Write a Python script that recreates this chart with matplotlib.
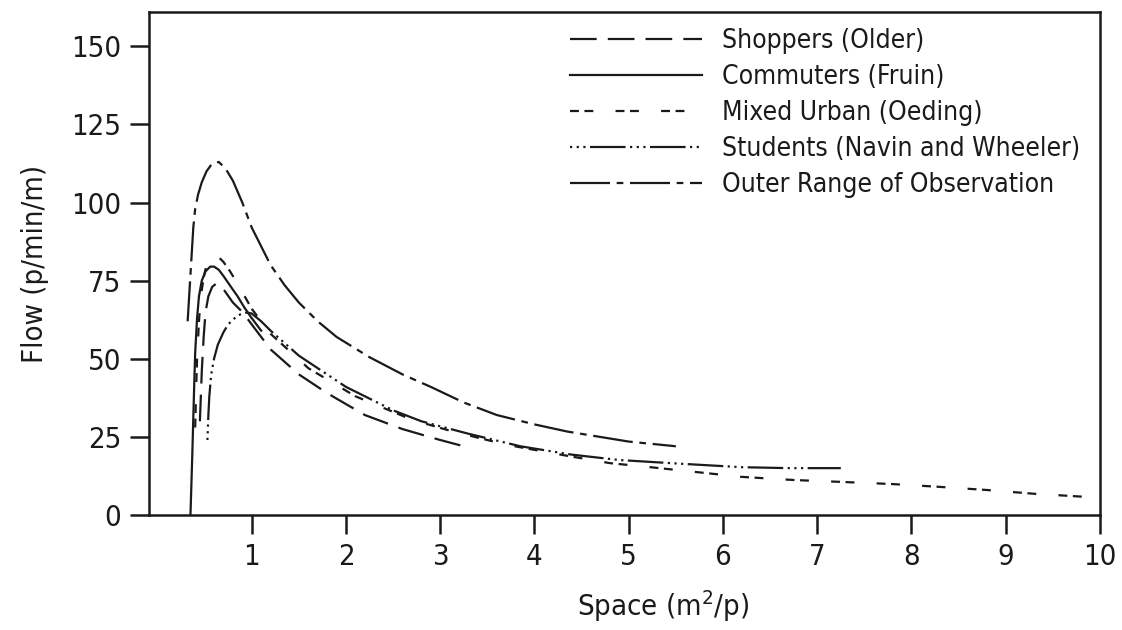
import matplotlib
matplotlib.use("Agg")
import matplotlib.pyplot as plt

plt.rcParams['font.family'] = ['DejaVu Sans']
plt.rcParams['font.stretch'] = 'condensed'

# ---- data ----
shoppers_x = [0.45, 0.46, 0.47, 0.49, 0.51, 0.54, 0.58, 0.62, 0.67, 0.73, 0.80, 0.90, 1.00, 1.20,
              1.50, 1.80, 2.20, 2.60, 3.00, 3.25]
shoppers_y = [30, 38, 46, 57, 65, 70, 73, 74, 73.5, 71, 68, 65, 61, 53,
              45, 39, 32, 27.5, 24, 22]

commuters_x = [0.35, 0.36, 0.37, 0.38, 0.39, 0.40, 0.42, 0.44, 0.47, 0.51, 0.56, 0.60, 0.65,
               0.70, 0.78, 0.85, 0.92, 1.00, 1.10]
commuters_y = [0, 10, 20, 31, 42, 52, 63, 70, 75, 78, 79.5, 79.5, 78.5,
               76.5, 73, 70, 66.5, 63, 59]

mixed_x = [0.40, 0.41, 0.42, 0.44, 0.46, 0.49, 0.52, 0.56, 0.60, 0.65, 0.70, 0.77, 0.85, 1.00,
           1.20, 1.60, 2.10, 2.70, 3.10, 3.70, 4.30, 4.80, 5.20, 5.70, 6.20, 6.75, 7.25, 7.80,
           8.30, 8.80, 9.30, 9.85]
mixed_y = [28, 40, 50, 62, 70, 76, 80, 82.5, 83, 82.5, 81, 78, 74, 66,
           58, 47, 38, 30.5, 27, 22.5, 19.2, 16.6, 15.4, 13.8, 12.2, 11.2, 10.6, 9.9,
           9.0, 8.0, 6.8, 5.8]

students_x = [0.53, 0.54, 0.55, 0.57, 0.60, 0.64, 0.70, 0.75, 0.80, 0.85, 0.90, 0.95, 1.00,
              1.10, 1.20, 1.35, 1.50, 1.75, 2.00, 2.50, 2.80, 3.30, 3.85, 4.40, 4.90, 5.50,
              6.20, 6.70, 7.25]
students_y = [24, 32, 38, 45, 50, 54.5, 58.5, 61, 62.5, 63.8, 64.5, 64.8, 64.5,
              62, 59, 55, 51, 46, 41, 33.5, 30, 26, 22, 19.3, 17.6, 16.5,
              15.3, 15, 15]

outer_x = [0.32, 0.34, 0.36, 0.38, 0.40, 0.43, 0.47, 0.52, 0.58, 0.65, 0.72, 0.80, 0.90, 1.00,
           1.10, 1.20, 1.35, 1.50, 1.70, 1.90, 2.25, 2.60, 2.90, 3.25, 3.60, 4.00, 4.35, 5.00, 5.50]
outer_y = [62, 72, 82, 92, 98, 102.5, 106.5, 110, 112.5, 113, 111, 107, 100, 92,
           86, 80, 73.5, 68, 62, 57, 50.5, 45, 41, 36, 32, 29, 26.7, 23.5, 22]

labels = ["Shoppers (Older)", "Commuters (Fruin)", "Mixed Urban (Oeding)",
          "Students (Navin and Wheeler)", "Outer Range of Observation"]
x_ticks = [1, 2, 3, 4, 5, 6, 7, 8, 9, 10]
y_ticks = [0, 25, 50, 75, 100, 125, 150]

# ---- figure ----
C = "#1a1a1a"
fig = plt.figure(figsize=(11.22, 6.30), dpi=100)
ax = fig.add_axes([149/1122, 1-515/630, (1100-149)/1122, (515-12)/630])

lw = 1.6
ax.plot(shoppers_x, shoppers_y, color=C, lw=lw, dashes=(12, 5), label=labels[0])
ax.plot(commuters_x, commuters_y, color=C, lw=lw, label=labels[1])
ax.plot(mixed_x, mixed_y, color=C, lw=lw, dashes=(4, 2.5, 4, 10), label=labels[2])
ax.plot(students_x, students_y, color=C, lw=lw, dashes=(1, 2, 1, 2, 1, 2, 16, 2), label=labels[3])
ax.plot(outer_x, outer_y, color=C, lw=lw, dashes=(18, 3, 3, 3), label=labels[4])

ax.set_xlim(-0.09, 10)
ax.set_ylim(0, 161)
ax.set_xticks(x_ticks)
ax.set_yticks(y_ticks)
ax.tick_params(axis='both', direction='out', length=14, width=1.8, colors=C,
               labelsize=21, pad=6, top=False, right=False)
for s in ax.spines.values():
    s.set_linewidth(1.8)
    s.set_color(C)

ax.set_xlabel("Space (m$^2$/p)", fontsize=21, color=C)
ax.set_ylabel("Flow (p/min/m)", fontsize=21, color=C)
ax.xaxis.set_label_coords((663-149)/951, -0.145)
ax.yaxis.set_label_coords(-0.105, 0.5)

leg = ax.legend(loc='upper left', bbox_to_anchor=((570-149)/951, (515-28)/503),
                frameon=False, fontsize=19, handlelength=5.0, handletextpad=0.75,
                labelspacing=0.38, borderaxespad=0, borderpad=0)
for t in leg.get_texts():
    t.set_color(C)

fig.savefig("out.png", dpi=100)
